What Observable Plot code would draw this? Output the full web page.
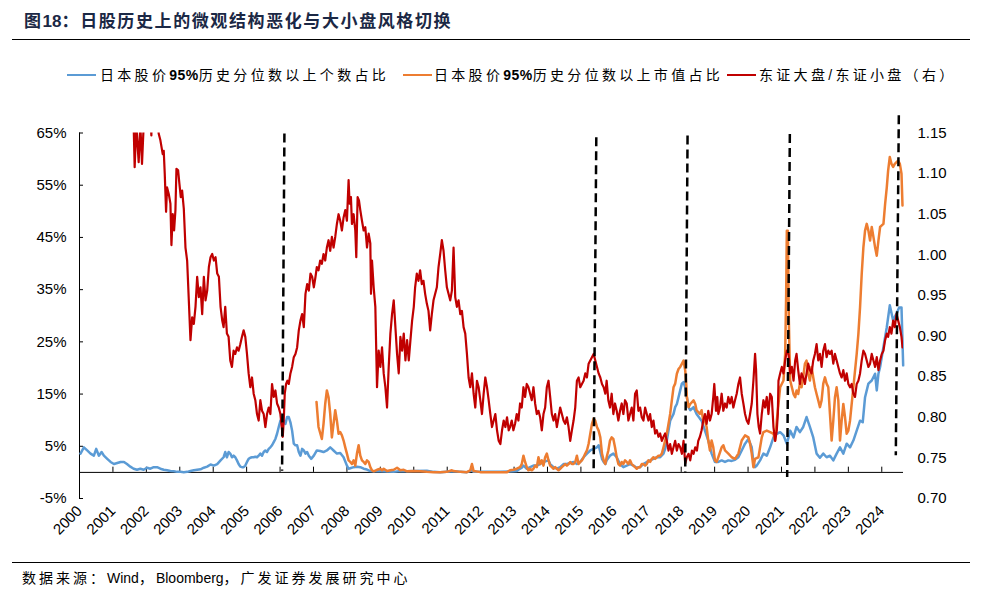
<!DOCTYPE html>
<html><head><meta charset="utf-8">
<script src="https://cdn.jsdelivr.net/npm/d3@7"></script>
<script src="https://cdn.jsdelivr.net/npm/@observablehq/plot@0.6"></script>
<style>
html,body{margin:0;padding:0;background:#fff;overflow:hidden;}
#wrap{position:relative;width:991px;height:601px;overflow:hidden;background:#fff;font-family:"Liberation Sans","Noto Sans CJK SC",sans-serif;color:#000;}
.abs{position:absolute;white-space:nowrap;}
.lg{font-size:14px;letter-spacing:3.3px;line-height:20px;top:65px;}
.lg b{font-family:"Liberation Sans";font-weight:bold;letter-spacing:0.5px;}
.lat{letter-spacing:0;}
.sw{height:0;top:74px;width:29px;}
#chart{position:absolute;left:0;top:100px;}
</style></head><body>
<div id="wrap">
  <div class="abs" style="left:24px;top:11px;font-size:17px;font-weight:bold;letter-spacing:1.6px;line-height:22px;color:#1b2845;">图<span class="lat">18</span>：日股历史上的微观结构恶化与大小盘风格切换</div>
  <div class="abs" style="left:12px;top:39px;width:958px;border-top:1.5px solid #000;"></div>
  <div class="abs sw" style="left:67px;border-top:2.5px solid #5B9BD5;"></div>
  <div class="abs lg" style="left:100px;">日本股价<b>95%</b>历史分位数以上个数占比</div>
  <div class="abs sw" style="left:403px;border-top:2.5px solid #ED7D31;"></div>
  <div class="abs lg" style="left:434px;">日本股价<b>95%</b>历史分位数以上市值占比</div>
  <div class="abs sw" style="left:727px;border-top:2.5px solid #C00000;"></div>
  <div class="abs lg" style="left:759px;">东证大盘/东证小盘（右）</div>
  <div id="chart"></div>
  <div class="abs" style="left:12px;top:562px;width:958px;border-top:1px solid #000;"></div>
  <div class="abs" style="left:22px;top:568px;font-size:14px;letter-spacing:3px;line-height:20px;">数据来源：<span class="lat">Wind</span>，<span class="lat">Bloomberg</span>，广发证券发展研究中心</div>
</div>
<script>
// ---- tick labels ----
const leftTicks = [-5, 5, 15, 25, 35, 45, 55, 65];
const rightTicks = [0.70, 0.75, 0.80, 0.85, 0.90, 0.95, 1.00, 1.05, 1.10, 1.15];
const yearTicks = [2000,2001,2002,2003,2004,2005,2006,2007,2008,2009,2010,2011,2012,2013,2014,2015,2016,2017,2018,2019,2020,2021,2022,2023,2024];

// ---- series: 日本股价95%历史分位数以上个数占比 (%) ----
const blue = [
[2000.03,3.6],[2000.13,4.8],[2000.23,4.2],[2000.33,3.6],[2000.43,3.2],[2000.50,4.5],[2000.58,3.2],[2000.66,3.9],[2000.73,3.2],[2000.83,2.6],[2000.93,2.0],[2001.03,1.6],[2001.13,1.8],[2001.23,2.0],[2001.33,2.0],[2001.42,1.6],[2001.52,1.1],[2001.62,0.7],[2001.72,0.5],[2001.82,0.7],[2001.92,0.5],[2002.02,0.9],[2002.12,0.7],[2002.22,1.0],[2002.32,1.0],[2002.42,0.7],[2002.52,0.5],[2002.62,0.4],[2002.72,0.25],[2002.82,0.2],[2002.92,0.1],[2003.02,0.1],[2003.12,0.05],[2003.22,0.1],[2003.32,0.25],[2003.42,0.4],[2003.52,0.5],[2003.62,0.6],[2003.72,0.9],[2003.82,1.1],[2003.92,1.5],[2004.02,1.3],[2004.12,1.6],[2004.22,2.3],[2004.31,2.9],[2004.36,3.9],[2004.41,2.9],[2004.46,3.9],[2004.51,3.6],[2004.56,2.9],[2004.61,3.2],[2004.66,2.9],[2004.71,2.3],[2004.76,1.6],[2004.81,1.1],[2004.86,1.0],[2004.91,1.0],[2004.96,1.3],[2005.01,2.0],[2005.06,2.6],[2005.11,2.8],[2005.16,2.9],[2005.21,2.9],[2005.26,3.0],[2005.31,2.9],[2005.36,3.2],[2005.41,3.6],[2005.46,3.2],[2005.51,3.9],[2005.56,4.2],[2005.61,3.9],[2005.66,4.5],[2005.71,4.8],[2005.76,5.2],[2005.81,5.8],[2005.86,6.4],[2005.91,7.4],[2005.96,8.7],[2006.01,9.9],[2006.06,10.3],[2006.11,9.9],[2006.16,9.3],[2006.21,10.6],[2006.26,10.6],[2006.31,9.6],[2006.36,8.0],[2006.41,5.5],[2006.46,5.2],[2006.51,5.2],[2006.56,3.9],[2006.61,3.2],[2006.66,4.5],[2006.71,4.2],[2006.76,3.6],[2006.81,3.9],[2006.86,3.2],[2006.93,2.6],[2007.01,3.2],[2007.10,4.2],[2007.20,4.1],[2007.30,3.9],[2007.40,4.2],[2007.50,4.8],[2007.55,4.5],[2007.60,4.2],[2007.70,3.6],[2007.80,3.7],[2007.90,2.9],[2008.00,1.3],[2008.05,0.7],[2008.10,0.8],[2008.20,1.0],[2008.30,1.1],[2008.40,1.0],[2008.50,0.7],[2008.60,0.55],[2008.70,0.25],[2008.80,0.2],[2009.00,0.2],[2009.40,0.1],[2009.60,0.25],[2009.80,0.2],[2010.00,0.25],[2010.39,0.3],[2010.59,0.1],[2010.79,0.05],[2011.19,0.2],[2011.59,0.05],[2011.74,0.4],[2011.79,0.1],[2012.19,0.1],[2012.59,0.1],[2012.98,0.2],[2013.08,0.25],[2013.13,0.5],[2013.23,0.9],[2013.28,1.3],[2013.33,1.0],[2013.38,0.7],[2013.48,1.0],[2013.58,1.3],[2013.68,1.3],[2013.78,1.6],[2013.88,2.0],[2013.98,2.2],[2014.03,2.3],[2014.08,1.6],[2014.18,1.0],[2014.28,0.7],[2014.38,1.0],[2014.48,1.6],[2014.58,1.6],[2014.68,1.8],[2014.78,2.0],[2014.88,1.6],[2014.98,2.0],[2015.08,2.9],[2015.18,3.6],[2015.28,4.2],[2015.38,4.5],[2015.48,4.8],[2015.53,5.2],[2015.58,3.9],[2015.63,2.6],[2015.68,2.0],[2015.73,1.6],[2015.77,2.3],[2015.87,3.2],[2015.97,3.6],[2016.07,2.9],[2016.17,1.6],[2016.27,1.0],[2016.37,1.3],[2016.47,1.6],[2016.57,1.3],[2016.67,0.9],[2016.77,1.0],[2016.87,1.6],[2016.97,2.0],[2017.07,2.3],[2017.17,2.6],[2017.27,2.9],[2017.37,2.9],[2017.47,3.6],[2017.52,4.5],[2017.57,6.1],[2017.62,8.0],[2017.67,9.9],[2017.77,11.2],[2017.82,12.5],[2017.87,13.1],[2017.92,14.4],[2017.97,15.7],[2018.02,17.0],[2018.07,17.3],[2018.12,16.3],[2018.17,14.4],[2018.22,12.5],[2018.27,11.9],[2018.37,12.5],[2018.46,11.2],[2018.56,10.3],[2018.61,9.9],[2018.71,8.0],[2018.81,6.1],[2018.91,3.6],[2019.01,2.0],[2019.11,2.0],[2019.21,2.3],[2019.31,2.0],[2019.41,2.3],[2019.51,2.2],[2019.61,2.4],[2019.71,2.9],[2019.81,4.2],[2019.91,5.5],[2020.01,6.4],[2020.11,4.8],[2020.16,2.0],[2020.21,1.0],[2020.26,1.3],[2020.36,2.3],[2020.46,3.6],[2020.56,3.2],[2020.66,4.8],[2020.76,6.7],[2020.86,7.4],[2020.96,7.7],[2021.06,7.1],[2021.16,5.5],[2021.21,6.7],[2021.26,8.0],[2021.36,6.7],[2021.45,8.7],[2021.55,7.7],[2021.65,8.7],[2021.75,10.6],[2021.85,8.7],[2021.95,6.7],[2022.05,3.6],[2022.15,2.8],[2022.25,3.6],[2022.35,2.9],[2022.45,3.2],[2022.55,2.3],[2022.65,3.6],[2022.75,4.8],[2022.85,3.6],[2022.95,5.5],[2023.05,4.8],[2023.15,6.1],[2023.25,8.0],[2023.35,9.9],[2023.43,9.6],[2023.50,14.4],[2023.60,17.0],[2023.70,17.6],[2023.80,18.9],[2023.85,15.7],[2023.90,18.9],[2023.95,20.2],[2024.05,24.0],[2024.15,27.8],[2024.24,32.0],[2024.34,29.1],[2024.44,30.4],[2024.52,31.6],[2024.59,31.6],[2024.64,20.5]
];

// ---- series: 日本股价95%历史分位数以上市值占比 (%) ----
const orange = [
[2007.09,13.5],[2007.15,8.7],[2007.25,6.4],[2007.30,9.3],[2007.35,13.1],[2007.40,15.7],[2007.45,14.4],[2007.50,11.2],[2007.55,6.7],[2007.60,9.3],[2007.65,11.9],[2007.70,9.9],[2007.75,7.4],[2007.80,7.7],[2007.85,7.1],[2007.90,6.1],[2007.95,4.8],[2008.00,3.6],[2008.05,2.3],[2008.10,2.0],[2008.15,1.6],[2008.20,2.3],[2008.25,1.3],[2008.30,3.6],[2008.35,5.2],[2008.40,3.2],[2008.45,2.3],[2008.50,2.0],[2008.55,1.6],[2008.60,2.3],[2008.65,2.0],[2008.70,1.0],[2008.75,0.4],[2008.80,0.2],[2008.90,0.5],[2009.00,0.7],[2009.05,0.4],[2009.10,0.7],[2009.20,0.25],[2009.30,0.4],[2009.40,0.5],[2009.50,0.9],[2009.60,0.4],[2009.70,0.5],[2009.80,0.2],[2010.00,0.25],[2010.19,0.2],[2010.39,0.1],[2010.59,0.05],[2010.79,0.05],[2010.99,0.1],[2011.14,0.4],[2011.19,0.25],[2011.39,0.1],[2011.59,0.05],[2011.69,0.4],[2011.74,1.6],[2011.79,0.25],[2011.99,0.05],[2012.39,0.05],[2012.79,0.05],[2012.88,0.4],[2012.98,0.5],[2013.08,0.7],[2013.18,1.0],[2013.23,1.6],[2013.28,3.2],[2013.33,2.0],[2013.38,1.0],[2013.43,0.4],[2013.48,0.7],[2013.53,0.4],[2013.58,0.7],[2013.63,1.3],[2013.68,1.0],[2013.73,2.9],[2013.78,1.6],[2013.83,2.3],[2013.88,1.3],[2013.93,2.9],[2013.98,3.6],[2014.03,2.3],[2014.08,1.3],[2014.13,1.0],[2014.18,0.7],[2014.23,1.0],[2014.28,0.7],[2014.33,0.4],[2014.38,0.7],[2014.43,1.0],[2014.48,1.3],[2014.53,1.6],[2014.58,1.3],[2014.63,1.6],[2014.68,2.0],[2014.73,1.6],[2014.78,1.6],[2014.83,2.0],[2014.88,3.2],[2014.93,1.6],[2014.98,2.0],[2015.03,2.3],[2015.08,2.9],[2015.13,3.6],[2015.18,4.2],[2015.23,5.5],[2015.28,7.4],[2015.33,9.3],[2015.38,10.3],[2015.43,9.9],[2015.48,8.7],[2015.53,8.0],[2015.58,6.7],[2015.63,3.6],[2015.68,2.3],[2015.73,1.6],[2015.77,2.9],[2015.82,4.2],[2015.87,6.1],[2015.92,6.7],[2015.97,6.4],[2016.02,4.8],[2016.07,2.9],[2016.12,1.6],[2016.17,1.3],[2016.22,2.0],[2016.27,1.6],[2016.32,2.3],[2016.37,2.0],[2016.42,1.6],[2016.47,2.3],[2016.52,1.6],[2016.57,1.3],[2016.62,1.0],[2016.67,0.7],[2016.72,1.0],[2016.77,1.0],[2016.82,1.6],[2016.87,1.6],[2016.92,1.3],[2016.97,1.6],[2017.02,2.3],[2017.07,2.0],[2017.12,2.6],[2017.17,2.9],[2017.22,2.6],[2017.27,2.9],[2017.32,3.2],[2017.37,3.2],[2017.42,3.6],[2017.47,4.8],[2017.52,6.1],[2017.57,7.4],[2017.62,9.3],[2017.67,11.2],[2017.72,13.8],[2017.77,16.3],[2017.82,17.0],[2017.87,18.9],[2017.92,19.8],[2017.97,20.2],[2018.02,20.8],[2018.07,21.4],[2018.12,19.5],[2018.15,17.0],[2018.17,14.4],[2018.22,12.5],[2018.27,13.1],[2018.37,13.8],[2018.42,13.1],[2018.46,11.9],[2018.56,11.2],[2018.61,11.9],[2018.66,9.9],[2018.71,9.9],[2018.76,8.7],[2018.81,6.1],[2018.86,4.2],[2018.91,6.1],[2018.96,4.8],[2019.01,2.3],[2019.06,2.0],[2019.11,2.9],[2019.21,4.8],[2019.26,5.2],[2019.31,4.2],[2019.41,3.6],[2019.51,2.9],[2019.61,2.6],[2019.71,3.6],[2019.81,6.1],[2019.91,7.1],[2020.01,6.7],[2020.06,5.5],[2020.11,3.6],[2020.16,1.0],[2020.21,2.6],[2020.31,2.9],[2020.36,4.8],[2020.41,6.7],[2020.46,7.7],[2020.56,8.0],[2020.66,7.7],[2020.76,7.4],[2020.81,6.1],[2020.86,9.9],[2020.91,13.1],[2020.96,16.3],[2021.06,17.6],[2021.11,22.7],[2021.14,34.2],[2021.16,46.3],[2021.19,46.3],[2021.22,29.1],[2021.26,17.6],[2021.31,16.3],[2021.36,15.0],[2021.41,14.4],[2021.45,15.7],[2021.50,15.0],[2021.55,17.0],[2021.60,16.3],[2021.65,18.2],[2021.70,20.8],[2021.75,21.4],[2021.80,18.9],[2021.85,17.6],[2021.90,20.2],[2021.95,18.2],[2022.00,16.3],[2022.05,15.0],[2022.10,13.8],[2022.15,12.5],[2022.20,13.8],[2022.25,17.0],[2022.30,18.2],[2022.35,17.0],[2022.40,16.3],[2022.45,11.2],[2022.50,6.1],[2022.55,9.9],[2022.60,14.4],[2022.65,16.3],[2022.70,13.8],[2022.75,6.1],[2022.80,9.9],[2022.85,13.1],[2022.90,10.6],[2022.95,7.4],[2023.00,8.0],[2023.05,9.9],[2023.10,13.1],[2023.15,16.3],[2023.20,19.5],[2023.25,22.7],[2023.30,26.5],[2023.35,31.6],[2023.40,38.0],[2023.45,43.1],[2023.50,46.3],[2023.55,47.6],[2023.60,46.3],[2023.65,44.4],[2023.70,47.0],[2023.75,45.1],[2023.80,43.1],[2023.85,41.5],[2023.90,44.4],[2023.95,47.0],[2024.00,47.3],[2024.05,47.6],[2024.10,51.4],[2024.15,54.6],[2024.19,57.8],[2024.24,60.4],[2024.29,59.1],[2024.34,58.5],[2024.39,59.1],[2024.44,59.4],[2024.49,59.7],[2024.54,59.1],[2024.59,57.2],[2024.62,51.1]
];

// ---- series: 东证大盘/东证小盘 (right axis) ----
const red = [
[2001.62,1.16],[2001.65,1.108],[2001.70,1.16],[2001.77,1.114],[2001.82,1.16],[2001.87,1.112],[2001.92,1.16],[2002.00,1.19],[2002.10,1.19],[2002.15,1.147],[2002.17,1.19],[2002.30,1.19],[2002.37,1.149],[2002.42,1.141],[2002.49,1.124],[2002.52,1.128],[2002.55,1.100],[2002.59,1.053],[2002.62,1.083],[2002.67,1.075],[2002.72,1.063],[2002.75,1.012],[2002.79,1.050],[2002.83,1.030],[2002.87,1.055],[2002.90,1.106],[2002.95,1.104],[2002.99,1.087],[2003.03,1.071],[2003.07,1.079],[2003.12,1.057],[2003.17,1.009],[2003.22,0.993],[2003.27,0.944],[2003.32,0.895],[2003.37,0.923],[2003.42,0.915],[2003.47,0.936],[2003.52,0.973],[2003.57,0.948],[2003.62,0.960],[2003.67,0.927],[2003.72,0.973],[2003.77,0.944],[2003.82,0.956],[2003.87,0.985],[2003.92,0.997],[2003.97,1.001],[2004.02,0.993],[2004.07,0.997],[2004.12,0.977],[2004.17,0.973],[2004.22,0.936],[2004.27,0.919],[2004.31,0.911],[2004.36,0.936],[2004.41,0.903],[2004.46,0.899],[2004.51,0.870],[2004.56,0.862],[2004.61,0.882],[2004.66,0.878],[2004.71,0.886],[2004.76,0.882],[2004.81,0.890],[2004.86,0.899],[2004.91,0.907],[2004.96,0.899],[2005.01,0.878],[2005.06,0.854],[2005.11,0.837],[2005.16,0.849],[2005.21,0.829],[2005.26,0.821],[2005.31,0.804],[2005.36,0.796],[2005.41,0.821],[2005.46,0.808],[2005.51,0.804],[2005.56,0.788],[2005.61,0.804],[2005.66,0.812],[2005.71,0.804],[2005.76,0.841],[2005.81,0.825],[2005.86,0.833],[2005.91,0.817],[2005.96,0.812],[2006.01,0.804],[2006.06,0.784],[2006.08,0.776],[2006.11,0.796],[2006.14,0.829],[2006.18,0.841],[2006.22,0.845],[2006.26,0.841],[2006.31,0.854],[2006.36,0.862],[2006.41,0.874],
[2006.46,0.878],[2006.51,0.886],[2006.56,0.907],[2006.61,0.919],[2006.66,0.927],[2006.71,0.911],[2006.76,0.952],[2006.81,0.964],[2006.86,0.956],[2006.91,0.977],[2006.96,0.973],[2007.01,0.960],[2007.06,0.973],[2007.10,0.985],[2007.15,0.981],[2007.20,0.993],[2007.25,0.989],[2007.30,1.001],[2007.35,0.993],[2007.40,1.009],[2007.45,1.018],[2007.50,1.005],[2007.55,1.022],[2007.60,1.009],[2007.65,1.022],[2007.70,1.038],[2007.75,1.050],[2007.80,1.042],[2007.85,1.030],[2007.90,1.046],[2007.95,1.055],[2008.00,1.042],[2008.05,1.092],[2008.08,1.063],[2008.12,1.071],[2008.15,1.038],[2008.20,1.050],[2008.25,1.030],[2008.28,0.997],[2008.32,1.071],[2008.36,1.067],[2008.40,1.055],[2008.45,1.042],[2008.50,1.030],[2008.55,1.034],[2008.60,1.009],[2008.65,1.026],[2008.70,1.014],[2008.72,0.952],[2008.75,0.993],[2008.80,0.960],[2008.85,0.936],[2008.90,0.837],[2008.95,0.882],[2009.00,0.862],[2009.05,0.886],[2009.10,0.854],[2009.15,0.837],[2009.20,0.812],[2009.25,0.862],[2009.30,0.903],[2009.35,0.927],[2009.40,0.944],[2009.45,0.911],[2009.50,0.878],[2009.55,0.854],[2009.60,0.899],[2009.65,0.882],[2009.70,0.903],[2009.75,0.870],[2009.80,0.895],[2009.85,0.870],[2009.90,0.895],[2009.95,0.919],[2010.00,0.936],[2010.04,0.960],[2010.09,0.977],[2010.14,0.968],[2010.19,0.981],[2010.24,0.964],[2010.29,0.968],[2010.34,0.952],[2010.39,0.940],[2010.44,0.931],[2010.49,0.907],[2010.54,0.927],[2010.59,0.944],[2010.64,0.952],[2010.69,0.960],[2010.74,0.985],[2010.79,1.001],[2010.84,1.018],[2010.89,1.005],[2010.94,0.981],[2010.99,0.960],[2011.04,0.952],[2011.09,0.944],[2011.14,0.956],[2011.19,1.009],[2011.24,0.948],[2011.29,0.936],[2011.34,0.944],[2011.39,0.927],[2011.44,0.931],[2011.49,0.911],[2011.54,0.903],[2011.59,0.878],[2011.64,0.849],[2011.69,0.837],[2011.74,0.854],[2011.79,0.829],[2011.84,0.812],[2011.89,0.845],[2011.94,0.837],[2011.99,0.821],[2012.04,0.804],[2012.09,0.829],[2012.14,0.849],[2012.19,0.837],[2012.24,0.821],[2012.29,0.804],[2012.34,0.788],[2012.39,0.796],[2012.44,0.804],[2012.49,0.784],[2012.54,0.771],[2012.59,0.767],
[2012.64,0.784],[2012.69,0.796],[2012.74,0.788],[2012.79,0.800],[2012.84,0.784],[2012.88,0.788],[2012.93,0.796],[2012.98,0.784],[2013.03,0.792],[2013.08,0.804],[2013.13,0.796],[2013.18,0.817],[2013.23,0.812],[2013.28,0.837],[2013.33,0.825],[2013.38,0.841],[2013.43,0.837],[2013.48,0.829],[2013.53,0.821],[2013.58,0.837],[2013.63,0.817],[2013.68,0.804],[2013.73,0.808],[2013.78,0.800],[2013.83,0.784],[2013.88,0.804],[2013.93,0.812],[2013.98,0.837],[2014.03,0.845],[2014.08,0.825],[2014.13,0.804],[2014.18,0.796],[2014.23,0.804],[2014.28,0.788],[2014.33,0.800],[2014.38,0.812],[2014.43,0.804],[2014.48,0.796],[2014.53,0.792],[2014.58,0.800],[2014.63,0.788],[2014.68,0.771],[2014.73,0.784],[2014.78,0.796],[2014.83,0.812],[2014.88,0.845],[2014.93,0.849],[2014.98,0.837],[2015.03,0.841],[2015.08,0.845],[2015.13,0.854],[2015.18,0.849],[2015.23,0.866],[2015.28,0.870],[2015.33,0.874],[2015.38,0.878],[2015.43,0.870],[2015.48,0.862],[2015.53,0.854],[2015.58,0.849],[2015.63,0.841],[2015.68,0.837],[2015.73,0.829],[2015.77,0.845],[2015.82,0.821],[2015.87,0.812],[2015.92,0.829],[2015.97,0.804],[2016.02,0.817],[2016.07,0.808],[2016.12,0.796],[2016.17,0.808],[2016.22,0.817],[2016.27,0.804],[2016.32,0.821],[2016.37,0.817],[2016.42,0.796],[2016.47,0.804],[2016.52,0.812],[2016.57,0.796],[2016.62,0.829],[2016.67,0.833],[2016.72,0.808],[2016.77,0.812],[2016.82,0.800],[2016.87,0.796],[2016.92,0.812],[2016.97,0.804],[2017.02,0.796],[2017.07,0.804],[2017.12,0.788],[2017.17,0.796],[2017.22,0.780],[2017.27,0.784],[2017.32,0.776],[2017.37,0.780],[2017.42,0.771],[2017.47,0.776],[2017.52,0.780],[2017.57,0.771],[2017.62,0.759],[2017.67,0.767],[2017.72,0.755],[2017.77,0.763],[2017.82,0.771],[2017.87,0.759],[2017.92,0.767],
[2017.97,0.763],[2018.02,0.755],[2018.07,0.771],[2018.12,0.743],[2018.17,0.751],[2018.22,0.755],[2018.27,0.747],[2018.32,0.759],[2018.37,0.755],[2018.42,0.763],[2018.47,0.759],[2018.51,0.771],[2018.56,0.776],[2018.61,0.784],[2018.66,0.796],[2018.71,0.804],[2018.76,0.792],[2018.81,0.808],[2018.86,0.796],[2018.91,0.804],[2018.96,0.825],[2018.99,0.841],[2019.04,0.808],[2019.08,0.825],[2019.11,0.804],[2019.16,0.812],[2019.21,0.829],[2019.26,0.808],[2019.31,0.817],[2019.36,0.812],[2019.41,0.825],[2019.46,0.817],[2019.51,0.825],[2019.56,0.812],[2019.61,0.821],[2019.66,0.829],[2019.71,0.841],[2019.76,0.849],[2019.81,0.829],[2019.86,0.817],[2019.91,0.804],[2019.96,0.796],[2020.01,0.792],[2020.06,0.804],[2020.11,0.817],[2020.16,0.845],[2020.21,0.878],[2020.24,0.858],[2020.28,0.804],[2020.32,0.788],[2020.36,0.780],[2020.41,0.804],[2020.46,0.821],[2020.51,0.812],[2020.56,0.825],[2020.61,0.804],[2020.66,0.829],[2020.71,0.825],[2020.76,0.788],[2020.81,0.771],[2020.86,0.784],[2020.89,0.804],[2020.91,0.845],[2020.96,0.854],[2021.01,0.862],[2021.06,0.854],[2021.11,0.870],[2021.16,0.882],[2021.21,0.878],[2021.26,0.854],[2021.31,0.862],[2021.36,0.845],[2021.41,0.870],[2021.45,0.878],[2021.50,0.858],[2021.55,0.841],[2021.60,0.854],[2021.65,0.849],[2021.70,0.841],[2021.75,0.854],[2021.80,0.866],[2021.85,0.858],[2021.90,0.854],[2021.95,0.870],[2022.00,0.878],[2022.05,0.890],[2022.10,0.870],[2022.15,0.878],[2022.20,0.862],[2022.25,0.882],[2022.30,0.890],[2022.35,0.874],[2022.40,0.882],[2022.45,0.878],[2022.50,0.882],[2022.55,0.866],[2022.60,0.878],[2022.65,0.870],[2022.70,0.862],[2022.75,0.854],[2022.80,0.849],[2022.85,0.858],[2022.90,0.845],[2022.95,0.854],[2023.00,0.841],[2023.05,0.837],[2023.10,0.841],[2023.15,0.829],[2023.20,0.825],[2023.25,0.841],[2023.30,0.845],[2023.35,0.854],[2023.40,0.870],[2023.45,0.882],[2023.50,0.878],[2023.55,0.870],[2023.60,0.862],[2023.65,0.866],[2023.70,0.878],[2023.75,0.870],[2023.80,0.862],[2023.85,0.874],[2023.90,0.858],[2023.95,0.870],[2024.00,0.878],[2024.05,0.882],[2024.10,0.895],[2024.15,0.903],[2024.19,0.899],[2024.24,0.911],[2024.29,0.903],[2024.34,0.919],[2024.39,0.911],[2024.44,0.927],[2024.49,0.919],[2024.54,0.911],[2024.59,0.899],[2024.62,0.886]
];

// ---- vertical dashed markers (time, %) ----
const dashTopT = [2006.13, 2015.46, 2018.19, 2021.25, 2024.51];
const dashBotT = [2006.06, 2015.38, 2018.12, 2021.17, 2024.42];
const dashTopY = [64.9, 64.2, 64.5, 64.8, 68.4];
const dashBotY = [0.3, 0.0, 0.0, -0.9, 3.3];

const L0 = -5, L1 = 65, R0 = 0.70, R1 = 1.15;
const toLeft = v => L0 + (v - R0) / (R1 - R0) * (L1 - L0);
const fromLeft = p => R0 + (p - L0) / (L1 - L0) * (R1 - R0);
const idx = dashTopT.map((d, i) => i);

const chart = Plot.plot({
  width: 991, height: 445,
  marginLeft: 79, marginRight: 88, marginTop: 32.5, marginBottom: 47,
  x: {domain: [2000, 2024.65]},
  y: {domain: [L0, L1]},
  style: {fontFamily: '"Liberation Sans", Arial, sans-serif', fontSize: "15px", color: "#000", background: "transparent", overflow: "visible"},
  marks: [
    Plot.axisY({ticks: leftTicks, anchor: "left", tickSize: 0, tickPadding: 13, tickFormat: d => d + "%"}),
    Plot.axisY({ticks: rightTicks.map(toLeft), anchor: "right", tickSize: 0, tickPadding: 14, tickFormat: d => fromLeft(d).toFixed(2)}),
    Plot.axisX({ticks: yearTicks, anchor: "bottom", tickSize: 0, tickPadding: 10, tickRotate: -45, tickFormat: d => String(d)}),
    Plot.ruleX([2000], {stroke: "#000", strokeWidth: 1}),
    Plot.ruleY([0], {stroke: "#000", strokeWidth: 1}),
    Plot.tickY(leftTicks, {y: d => d, stroke: "#000", insetRight: 820}),
    Plot.ruleX(yearTicks, {x: d => d, y1: 0, y2: 1, stroke: "#000"}),
    Plot.line(blue, {x: d => d[0], y: d => d[1], stroke: "#5B9BD5", strokeWidth: 2.5}),
    Plot.line(orange, {x: d => d[0], y: d => d[1], stroke: "#ED7D31", strokeWidth: 2.5}),
    Plot.line(red, {x: d => d[0], y: d => toLeft(d[1]), stroke: "#C00000", strokeWidth: 2.2, clip: true}),
    Plot.link(idx, {x1: i => dashTopT[i], y1: i => dashTopY[i], x2: i => dashBotT[i], y2: i => dashBotY[i], stroke: "#000", strokeWidth: 2.5, strokeDasharray: "9,5"})
  ]
});
document.getElementById("chart").appendChild(chart);
</script>
</body></html>
